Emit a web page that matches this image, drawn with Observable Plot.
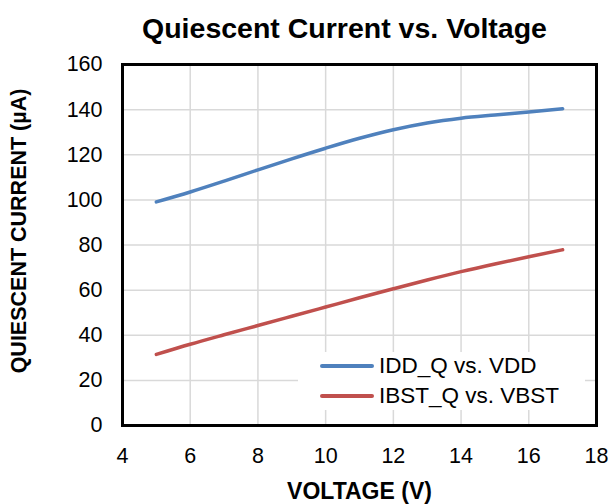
<!DOCTYPE html>
<html>
<head>
<meta charset="utf-8">
<script src="https://cdn.jsdelivr.net/npm/d3@7"></script>
<script src="https://cdn.jsdelivr.net/npm/@observablehq/plot@0.6"></script>
<style>
  body { margin: 0; background: #fff; font-family: "Liberation Sans", Arial, sans-serif; }
  #wrap { position: relative; width: 611px; height: 504px; }
  #legend { position: absolute; left: 298px; top: 352px; width: 287px; height: 58px; background: #fff; }
  .row { position: absolute; left: 22px; height: 30px; display: flex; align-items: center; font-size: 22.5px; color: #000; white-space: nowrap; }
  .row svg { margin-right: 5px; }
</style>
</head>
<body>
<div id="wrap"></div>
<script>
const title = "Quiescent Current vs. Voltage";
const xLabel = "VOLTAGE (V)";
const yLabel = "QUIESCENT CURRENT (µA)";
const xTicks = [4, 6, 8, 10, 12, 14, 16, 18];
const yTicks = [0, 20, 40, 60, 80, 100, 120, 140, 160];
const seriesNames = ["IDD_Q vs. VDD", "IBST_Q vs. VBST"];
const seriesColors = ["#4F81BD", "#C0504D"];
const voltage = [5, 6, 7, 8, 9, 10, 11, 12, 13, 14, 15, 16, 17];
const iddQ = [99.1, 103.5, 108.3, 113.3, 118.2, 122.9, 127.3, 131.1, 134.1, 136.2, 137.6, 138.9, 140.4];
const ibstQ = [31.5, 36.0, 40.2, 44.3, 48.4, 52.5, 56.6, 60.6, 64.5, 68.2, 71.6, 74.8, 77.9];

const data = [
  ...voltage.map((v, i) => ({v, c: iddQ[i], s: seriesNames[0]})),
  ...voltage.map((v, i) => ({v, c: ibstQ[i], s: seriesNames[1]}))
];

const font = "'Liberation Sans', Arial, sans-serif";
const chart = Plot.plot({
  width: 611,
  height: 504,
  marginLeft: 122,
  marginRight: 15,
  marginTop: 64,
  marginBottom: 79,
  style: {fontFamily: font, fontSize: "21.5px", color: "#000", background: "#fff"},
  x: {domain: [4, 18]},
  y: {domain: [0, 160]},
  color: {domain: seriesNames, range: seriesColors},
  marks: [
    Plot.gridX(xTicks, {stroke: "#d9d9d9", strokeOpacity: 1, strokeWidth: 1.5}),
    Plot.gridY(yTicks, {stroke: "#d9d9d9", strokeOpacity: 1, strokeWidth: 1.5}),
    Plot.axisX(xTicks, {tickSize: 0, tickPadding: 22, label: null, fontSize: 21.5}),
    Plot.axisY(yTicks, {tickSize: 0, tickPadding: 20, label: null, fontSize: 21.5}),
    Plot.line(data, {x: "v", y: "c", z: "s", stroke: "s", strokeWidth: 3.5, curve: "monotone-x"}),
    Plot.frame({stroke: "#000", strokeWidth: 3}),
    Plot.text([title], {text: d => d, frameAnchor: "top", textAnchor: "middle", lineAnchor: "middle", dx: -15, dy: -36, fontSize: 28.5, fontWeight: "bold"}),
    Plot.text([xLabel], {text: d => d, frameAnchor: "bottom", textAnchor: "middle", lineAnchor: "middle", dy: 66, fontSize: 23, fontWeight: "bold"}),
    Plot.text([yLabel], {text: d => d, frameAnchor: "left", textAnchor: "middle", lineAnchor: "middle", rotate: -90, dx: -103, dy: -14, fontSize: 21.5, fontWeight: "bold"})
  ]
});
const wrap = document.getElementById("wrap");
wrap.appendChild(chart);

const legend = document.createElement("div");
legend.id = "legend";
seriesNames.forEach((name, i) => {
  const row = document.createElement("div");
  row.className = "row";
  row.style.top = (i * 30 - 1) + "px";
  row.innerHTML = `<svg width="54" height="8"><line x1="2" y1="4" x2="52" y2="4" stroke="${seriesColors[i]}" stroke-width="4" stroke-linecap="round"/></svg><span>${name}</span>`;
  legend.appendChild(row);
});
wrap.appendChild(legend);
</script>
</body>
</html>
